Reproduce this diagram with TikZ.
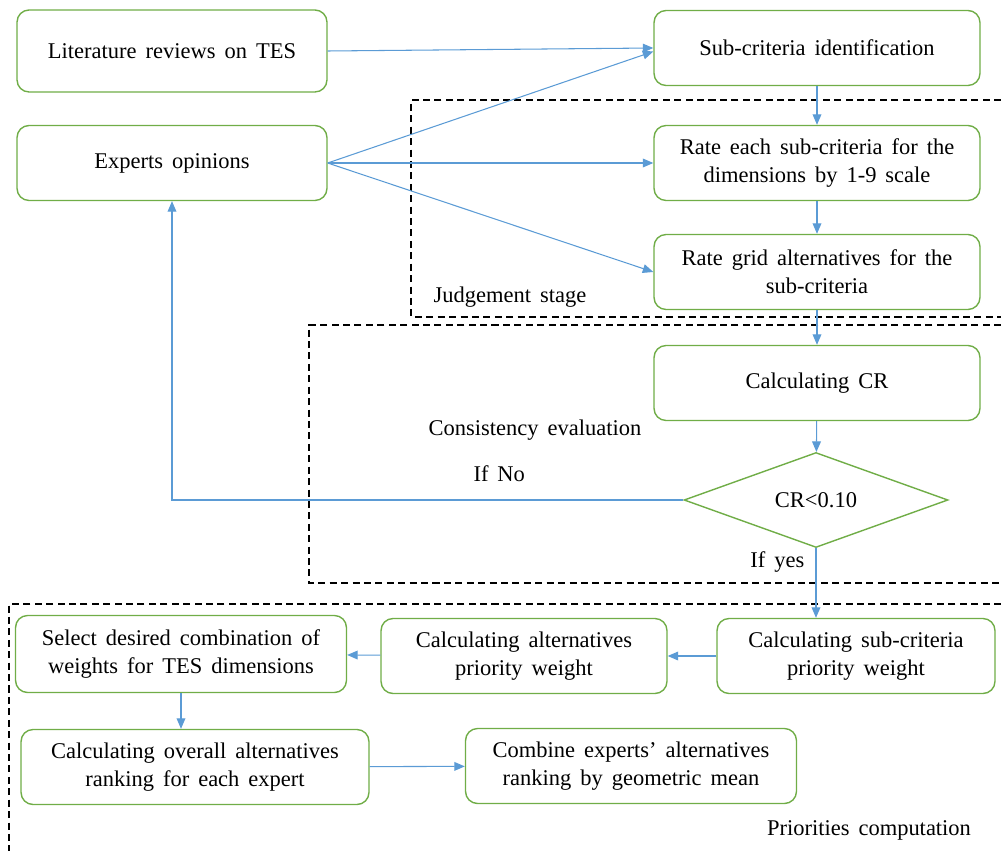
\documentclass[tikz,border=0pt]{standalone}
\usepackage{fontspec}
\setmainfont[WordSpace=1.6]{Liberation Serif}
\usetikzlibrary{shapes.geometric, positioning, arrows.meta}
\definecolor{boxgreen}{RGB}{112,173,71}
\definecolor{flowblue}{RGB}{91,155,213}

\begin{document}
\begin{tikzpicture}[x=0.02cm,y=-0.02cm,
% Boxes and decision style
    stepbox/.style={rectangle,rounded corners=0.24cm,draw=boxgreen,
		line width=0.8pt,fill=white,align=center,inner sep=2pt,
		font=\fontsize{12.8}{16}\selectfont,minimum height=1.5cm},
    decision/.style={diamond,draw=boxgreen,line width=0.8pt,aspect=2.8,
		minimum width=5.28cm,minimum height=1.9cm,inner sep=0pt,
		font=\fontsize{12.8}{16}\selectfont},
% Connector style
    flow/.style={draw=flowblue,line width=0.6pt,
		-{Triangle[length=6pt,width=5pt]}},
% Stage frame and label style
    stage/.style={draw=black,line width=0.8pt,dash pattern=on 4pt off 2.5pt},
    note/.style={font=\fontsize{12.8}{16}\selectfont,inner sep=0pt}
    ]
\useasboundingbox (0,0) rectangle (1001,851);
%% Input boxes
    \node (lit) [stepbox,minimum width=6.2cm,minimum height=1.64cm] at (172,51)
		{Literature reviews on TES};
    \node (exp) [stepbox,minimum width=6.2cm] at (172,163) {Experts opinions};
%% Judgement and consistency column
    \node (sub)   [stepbox,minimum width=6.52cm] at (817,48) {Sub-criteria identification};
    \node (rate1) [stepbox,minimum width=6.52cm] at (817,163)
		{Rate each sub-criteria for the\\dimensions by 1-9 scale};
    \node (rate2) [stepbox,minimum width=6.52cm] at (817,272)
		{Rate grid alternatives for the\\sub-criteria};
    \node (cr)    [stepbox,minimum width=6.52cm] at (817,383) {Calculating CR};
    \node (dec)   [decision] at (816,500) {CR<0.10};
%% Priorities boxes
    \node (subw) [stepbox,minimum width=5.56cm] at (856,656)
		{Calculating sub-criteria\\priority weight};
    \node (altw) [stepbox,minimum width=5.72cm] at (524,656)
		{Calculating alternatives\\priority weight};
    \node (sel)  [stepbox,minimum width=6.62cm,minimum height=1.54cm] at (181,654)
		{Select desired combination of\\weights for TES dimensions};
    \node (all)  [stepbox,minimum width=6.96cm] at (195,767)
		{Calculating overall alternatives\\ranking for each expert};
    \node (comb) [stepbox,minimum width=6.62cm] at (631,766)
		{Combine experts’ alternatives\\ranking by geometric mean};
%% Stage frames
    \draw [stage] (1001,100) -- (411,100) -- (411,317) -- (1001,317);
    \draw [stage] (1001,325) -- (309,325) -- (309,583) -- (1001,583);
    \draw [stage] (1001,604) -- (9,604) -- (9,851);
    \node (judge) [note] at (510,297) {Judgement stage};
    \node (cons)  [note] at (535,430) {Consistency evaluation};
    \node (prio)  [note] at (869,830) {Priorities computation};
%% Connectors
    \draw [flow] (lit.east) -- (sub.west);
    \draw [flow] (exp.east) -- ([yshift=-2pt]sub.west);
    \draw [flow] (exp.east) -- (rate1.west);
    \draw [flow] (exp.east) -- (rate2.west);
    \draw [flow] (sub) -- (rate1);
    \draw [flow] (rate1) -- (rate2);
    \draw [flow] (rate2) -- (cr);
    \draw [flow] (cr) -- (dec);
    \draw [flow] (dec.west) -- (exp.south |- dec.west)
		node (no) [note,above=10pt,pos=0.36] {If No} -- (exp.south);
    \draw [flow] (dec.south) -- (dec.south |- subw.north);
    \node (yes) [note,below left=2pt and 22pt of dec.south,anchor=north] {If yes};
    \draw [flow] (subw) -- (altw);
    \draw [flow] (altw) -- (sel);
    \draw [flow] (sel.south) -- (sel.south |- all.north);
    \draw [flow] (all) -- (comb);
\end{tikzpicture}
\end{document}
